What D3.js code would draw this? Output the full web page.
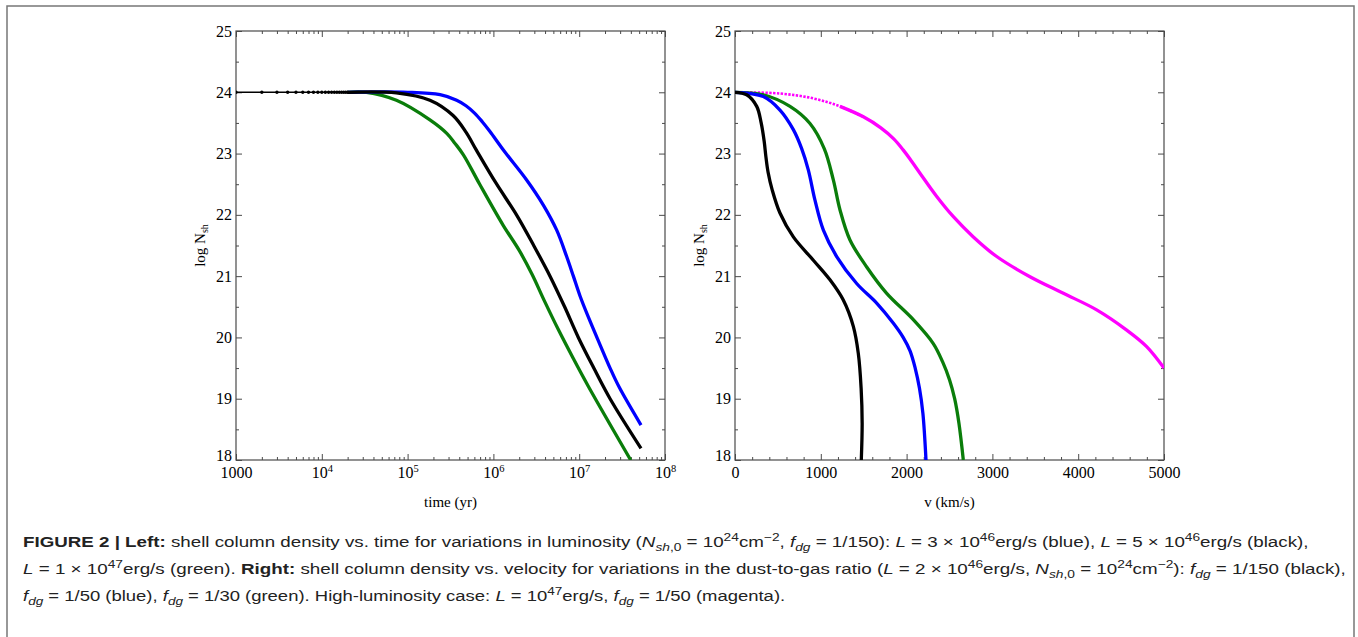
<!DOCTYPE html>
<html><head><meta charset="utf-8">
<script src="https://cdn.jsdelivr.net/npm/d3@7"></script>
<style>
html,body{margin:0;padding:0;background:#fff;}
svg{display:block;}
</style></head><body>
<svg id="fig" width="1358" height="637"></svg>
<script>
// ---------------- data ----------------
const yTicks = [18, 19, 20, 21, 22, 23, 24, 25];
const yMinorTicks = [18.5, 19.5, 20.5, 21.5, 22.5, 23.5, 24.5];
const timeTicks = [1e3, 1e4, 1e5, 1e6, 1e7, 1e8];
const timeTickExps = ["", "4", "5", "6", "7", "8"];
const velTicks = [0, 1000, 2000, 3000, 4000, 5000];

// Left panel: log N_sh vs time (yr)
const blackDotTime = [1000, 2000, 3000, 4000, 5000, 6000, 7000, 8000, 9000, 10000, 11000, 12000, 13000, 14000, 15000, 16000, 17000, 18000, 19000, 20000];
const blackDotLogN = [24, 24, 24, 24, 24, 24, 24, 24, 24, 24, 24, 24, 24, 24, 24, 24, 24, 24, 24, 24];

const leftBlueTime = [2.0e4, 1.0e5, 2.39e5, 3.73e5, 4.79e5, 6.03e5, 7.41e5, 9.12e5, 1.32e6, 2.44e6, 3.82e6, 5.47e6, 7.14e6, 8.55e6, 1.02e7, 1.28e7, 1.75e7, 2.29e7, 2.92e7, 5.25e7];
const leftBlueLogN = [24.0, 24.0, 23.96, 23.87, 23.78, 23.66, 23.52, 23.36, 23.05, 22.57, 22.16, 21.75, 21.32, 21.0, 20.68, 20.33, 19.88, 19.5, 19.19, 18.57];

const leftBlackTime = [2.0e4, 7.41e4, 1.82e5, 3.39e5, 4.79e5, 6.31e5, 1.07e6, 1.86e6, 2.95e6, 4.57e6, 6.76e6, 9.77e6, 1.48e7, 2.29e7, 5.25e7];
const leftBlackLogN = [24.0, 23.99, 23.87, 23.62, 23.35, 23.06, 22.52, 22.0, 21.5, 21.0, 20.5, 20.0, 19.5, 19.0, 18.19];

const leftGreenTime = [2.0e4, 3.31e4, 7.41e4, 1.82e5, 2.86e5, 3.55e5, 4.47e5, 6.92e5, 1.3e6, 2.0e6, 2.82e6, 3.98e6, 5.75e6, 8.51e6, 1.28e7, 3.98e7];
const leftGreenLogN = [24.0, 24.0, 23.87, 23.55, 23.33, 23.17, 22.98, 22.5, 21.83, 21.42, 21.03, 20.58, 20.12, 19.66, 19.2, 18.0];

// Right panel: log N_sh vs velocity (km/s)
const rightBlackVel = [0, 136, 253, 305, 340, 360, 385, 435, 524, 680, 913, 1107, 1262, 1379, 1437, 1470, 1482, 1472];
const rightBlackLogN = [24.0, 23.96, 23.77, 23.5, 23.2, 22.95, 22.7, 22.4, 22.03, 21.64, 21.26, 20.94, 20.61, 20.18, 19.74, 19.17, 18.6, 18.0];

const rightBlueVel = [0, 330, 524, 680, 777, 855, 932, 1030, 1185, 1418, 1651, 1846, 1960, 2040, 2100, 2150, 2190, 2226];
const rightBlueLogN = [24.0, 23.93, 23.71, 23.39, 23.08, 22.73, 22.24, 21.75, 21.32, 20.88, 20.56, 20.23, 20.0, 19.78, 19.5, 19.17, 18.76, 18.0];

const rightGreenVel = [0, 330, 641, 874, 1040, 1146, 1224, 1340, 1535, 1768, 2078, 2311, 2420, 2500, 2560, 2610, 2661];
const rightGreenLogN = [24.0, 23.96, 23.77, 23.49, 23.08, 22.57, 22.08, 21.59, 21.15, 20.72, 20.29, 19.9, 19.6, 19.31, 19.0, 18.6, 18.0];

const rightMagentaVel = [0, 524, 913, 1224, 1496, 1700, 1850, 1960, 2060, 2156, 2351, 2545, 2778, 3050, 3438, 3827, 4215, 4565, 4798, 5000];
const rightMagentaLogN = [24.0, 23.98, 23.9, 23.77, 23.6, 23.42, 23.24, 23.06, 22.87, 22.68, 22.3, 21.97, 21.64, 21.32, 20.99, 20.72, 20.45, 20.12, 19.85, 19.5];
const magentaDottedUpTo = 1300;

// caption
const captionLines = [
  [["b","FIGURE 2 | Left:"],["n"," shell column density vs. time for variations in luminosity ("],["i","N"],["sub","sh"],["subn",",0"],["n"," = 10"],["sup","24"],["n","cm"],["sup","−2"],["n",", "],["i","f"],["sub","dg"],["n"," = 1/150): "],["i","L"],["n"," = 3 × 10"],["sup","46"],["n","erg/s (blue), "],["i","L"],["n"," = 5 × 10"],["sup","46"],["n","erg/s (black),"]],
  [["i","L"],["n"," = 1 × 10"],["sup","47"],["n","erg/s (green). "],["b","Right:"],["n"," shell column density vs. velocity for variations in the dust-to-gas ratio ("],["i","L"],["n"," = 2 × 10"],["sup","46"],["n","erg/s, "],["i","N"],["sub","sh"],["subn",",0"],["n"," = 10"],["sup","24"],["n","cm"],["sup","−2"],["n","): "],["i","f"],["sub","dg"],["n"," = 1/150 (black),"]],
  [["i","f"],["sub","dg"],["n"," = 1/50 (blue), "],["i","f"],["sub","dg"],["n"," = 1/30 (green). High-luminosity case: "],["i","L"],["n"," = 10"],["sup","47"],["n","erg/s, "],["i","f"],["sub","dg"],["n"," = 1/50 (magenta)."]]
];

(function () {
// ---------------- drawing ----------------
const svg = d3.select("#fig");
const serif = "'Liberation Serif','Times New Roman',serif";
const axisColor = "#4a4a4a";
const tickFont = 16;

svg.append("path").attr("d", "M7,637V6H1354V637")
  .attr("fill", "none").attr("stroke", "#777").attr("stroke-width", 1.5);

const yTop = 31, yBottom = 460;
const panels = [
  {x0: 236, x1: 665, id: "L"},
  {x0: 735, x1: 1164, id: "R"}
];

const y = d3.scaleLinear().domain([18, 25]).range([yBottom, yTop]);
const xL = d3.scaleLog().domain([1e3, 1e8]).range([panels[0].x0, panels[0].x1]);
const xR = d3.scaleLinear().domain([0, 5000]).range([panels[1].x0, panels[1].x1]);

function styleAxis(g) {
  g.select(".domain").remove();
  g.selectAll("line").attr("stroke", axisColor).attr("stroke-width", 1);
  g.selectAll("text").attr("font-family", serif).attr("font-size", tickFont).attr("fill", "#000");
}

const timeMinor = [];
[1e3, 1e4, 1e5, 1e6, 1e7].forEach(d => { for (let k = 2; k <= 9; k++) timeMinor.push(d * k); });
const velMinor = d3.range(0, 5001, 200).filter(v => v % 1000 !== 0);

function drawPanel(p, x, majors, minors, labelFn) {
  const g = svg.append("g");
  const yl = g.append("g").attr("transform", `translate(${p.x0},0)`)
    .call(d3.axisLeft(y).tickValues(yTicks).tickSizeInner(-6).tickSizeOuter(0).tickPadding(4).tickFormat(d3.format("d")))
    .call(styleAxis);
  // lowest label sits slightly raised, clear of the x labels
  yl.selectAll(".tick text").filter(d => d === 18).attr("y", -5);
  g.append("g").attr("transform", `translate(${p.x0},0)`)
    .call(d3.axisLeft(y).tickValues(yMinorTicks).tickSizeInner(-3).tickSizeOuter(0).tickFormat(""))
    .call(styleAxis);
  g.append("g").attr("transform", `translate(${p.x1},0)`)
    .call(d3.axisRight(y).tickValues(yTicks).tickSizeInner(-6).tickSizeOuter(0).tickFormat(""))
    .call(styleAxis);
  g.append("g").attr("transform", `translate(${p.x1},0)`)
    .call(d3.axisRight(y).tickValues(yMinorTicks).tickSizeInner(-3).tickSizeOuter(0).tickFormat(""))
    .call(styleAxis);
  const xb = g.append("g").attr("transform", `translate(0,${yBottom})`)
    .call(d3.axisBottom(x).tickValues(majors).tickSizeInner(-6).tickSizeOuter(0).tickPadding(7).tickFormat(d => ""))
    .call(styleAxis);
  xb.selectAll(".tick text").each(function(d, i) { labelFn(d3.select(this), d, i); });
  g.append("g").attr("transform", `translate(0,${yBottom})`)
    .call(d3.axisBottom(x).tickValues(minors).tickSizeInner(-3).tickSizeOuter(0).tickFormat(""))
    .call(styleAxis);
  g.append("g").attr("transform", `translate(0,${yTop})`)
    .call(d3.axisTop(x).tickValues(majors).tickSizeInner(-6).tickSizeOuter(0).tickFormat(""))
    .call(styleAxis);
  g.append("g").attr("transform", `translate(0,${yTop})`)
    .call(d3.axisTop(x).tickValues(minors).tickSizeInner(-3).tickSizeOuter(0).tickFormat(""))
    .call(styleAxis);
  g.append("rect").attr("x", p.x0).attr("y", yTop).attr("width", p.x1 - p.x0).attr("height", yBottom - yTop)
    .attr("fill", "none").attr("stroke", axisColor).attr("stroke-width", 1.2);
  svg.append("clipPath").attr("id", "clip" + p.id).append("rect")
    .attr("x", p.x0).attr("y", yTop).attr("width", p.x1 - p.x0).attr("height", yBottom - yTop);
  const yt = g.append("text").attr("transform", `translate(${p.x0 - 31},${(yTop + yBottom) / 2}) rotate(-90)`)
    .attr("text-anchor", "middle").attr("font-family", serif).attr("font-size", 15).attr("fill", "#000");
  yt.append("tspan").text("log N");
  yt.append("tspan").attr("font-size", 10).attr("dy", 3).text("sh");
}

drawPanel(panels[0], xL, timeTicks, timeMinor, (t, d, i) => {
  t.text(null);
  if (timeTickExps[i] === "") { t.text("1000"); return; }
  t.append("tspan").text("10");
  t.append("tspan").attr("font-size", 10.5).attr("dy", -6).text(timeTickExps[i]);
});
drawPanel(panels[1], xR, velTicks, velMinor, (t, d) => { t.text(d3.format("d")(d)); });

svg.append("text").attr("x", (panels[0].x0 + panels[0].x1) / 2).attr("y", 507).attr("text-anchor", "middle")
  .attr("font-family", serif).attr("font-size", 15).attr("fill", "#000").text("time (yr)");
svg.append("text").attr("x", (panels[1].x0 + panels[1].x1) / 2).attr("y", 507).attr("text-anchor", "middle")
  .attr("font-family", serif).attr("font-size", 15).attr("fill", "#000").text("v (km/s)");

const zip = (a, b) => a.map((v, i) => [v, b[i]]);
const curve = d3.curveCatmullRom.alpha(0.5);
const lineL = d3.line().x(d => xL(d[0])).y(d => y(d[1])).curve(curve);
const lineR = d3.line().x(d => xR(d[0])).y(d => y(d[1])).curve(curve);

const gl = svg.append("g").attr("clip-path", "url(#clipL)");
const W = 3.3;
gl.append("path").attr("d", lineL(zip(leftGreenTime, leftGreenLogN))).attr("fill", "none").attr("stroke", "#0a7d0a").attr("stroke-width", W);
gl.append("path").attr("d", lineL(zip(leftBlueTime, leftBlueLogN))).attr("fill", "none").attr("stroke", "#0000ff").attr("stroke-width", W);
gl.append("path").attr("d", lineL(zip(leftBlackTime, leftBlackLogN))).attr("fill", "none").attr("stroke", "#000").attr("stroke-width", W);
const dots = zip(blackDotTime, blackDotLogN);
gl.append("path").attr("d", d3.line().x(d => xL(d[0])).y(d => y(d[1]))(dots)).attr("fill", "none").attr("stroke", "#000").attr("stroke-width", 1.4);
gl.selectAll("circle.bd").data(dots).join("circle").attr("class", "bd")
  .attr("cx", d => xL(d[0])).attr("cy", d => y(d[1])).attr("r", 1.7).attr("fill", "#000");

const gr = svg.append("g").attr("clip-path", "url(#clipR)");
const mag = zip(rightMagentaVel, rightMagentaLogN);
gr.append("path").attr("d", lineR(mag.filter(d => d[0] <= magentaDottedUpTo + 300)))
  .attr("fill", "none").attr("stroke", "#ff00ff").attr("stroke-width", 2.6).attr("stroke-dasharray", "2.4 1.4");
gr.append("path").attr("d", lineR(mag.filter(d => d[0] >= magentaDottedUpTo - 100)))
  .attr("fill", "none").attr("stroke", "#ff00ff").attr("stroke-width", W);
gr.append("path").attr("d", lineR(zip(rightGreenVel, rightGreenLogN))).attr("fill", "none").attr("stroke", "#0a7d0a").attr("stroke-width", W);
gr.append("path").attr("d", lineR(zip(rightBlueVel, rightBlueLogN))).attr("fill", "none").attr("stroke", "#0000ff").attr("stroke-width", W);
gr.append("path").attr("d", lineR(zip(rightBlackVel, rightBlackLogN))).attr("fill", "none").attr("stroke", "#000").attr("stroke-width", W);

const capX = 23, capY = [547, 574, 601], capEnd = [1310, 1346, 786];
captionLines.forEach((segs, li) => {
  const t = svg.append("text").attr("font-family", "'Liberation Sans',Arial,sans-serif")
    .attr("font-size", 15).attr("fill", "#222");
  let shift = 0;
  segs.forEach(([kind, txt]) => {
    const s = t.append("tspan").text(txt);
    let want = 0;
    if (kind === "b") s.attr("font-weight", 700);
    if (kind === "i") s.attr("font-style", "italic");
    if (kind === "sub" || kind === "subn") { want = 4; s.attr("font-size", 11); if (kind === "sub") s.attr("font-style", "italic"); }
    if (kind === "sup") { want = -6; s.attr("font-size", 11); }
    if (want !== shift) { s.attr("dy", want - shift); shift = want; }
  });
  const w = t.node().getComputedTextLength();
  const sx = (capEnd[li] - capX) / w;
  t.attr("transform", `translate(${capX},${capY[li]}) scale(${sx},1)`);
});
})();
</script>
</body></html>
